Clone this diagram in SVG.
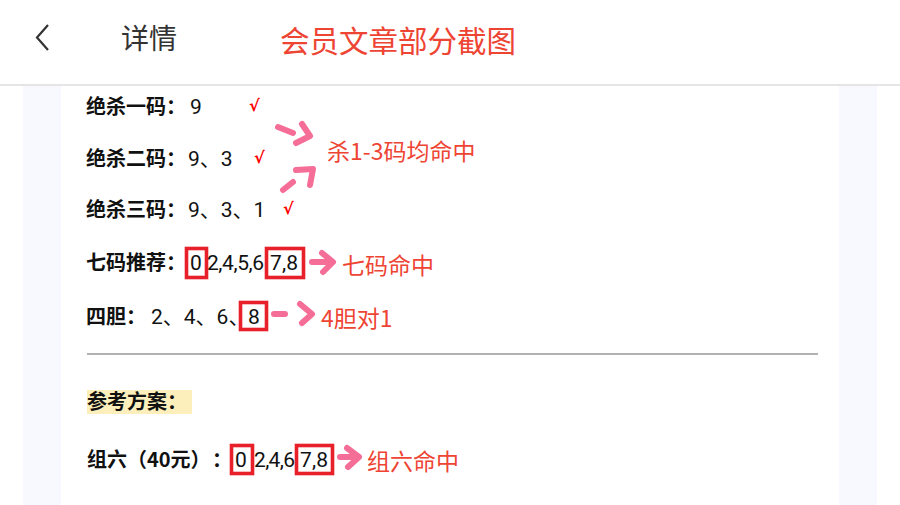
<svg xmlns="http://www.w3.org/2000/svg" width="900" height="505" viewBox="0 0 900 505">
<style>
.lbl{font-family:"Noto Sans CJK SC","Noto Sans",sans-serif;font-weight:bold;font-size:20px;fill:#111}
.num{font-family:Roboto,"Noto Sans CJK SC",sans-serif;font-size:21px;fill:#111}
.red{font-family:"Noto Sans CJK SC","Noto Sans",sans-serif;font-size:23px;fill:#ee4433}
.chk{font-family:"DejaVu Sans",sans-serif;font-size:16px;font-weight:bold;fill:#ff0000}
.box{fill:none;stroke:#e8202a;stroke-width:3.6}
.arr{fill:none;stroke:#f56e98;stroke-width:6;stroke-linecap:round;stroke-linejoin:round}
</style>
<rect width="900" height="505" fill="#ffffff"/>
<rect x="23" y="86" width="38" height="419" fill="#f8f9fe"/>
<rect x="839" y="86" width="38" height="419" fill="#f8f9fe"/>
<g id="header">
<path d="M48,25 L37,37.5 L48,50" fill="none" stroke="#333" stroke-width="2.2"/>
<text x="121" y="49" font-family="Noto Sans CJK SC,sans-serif" font-size="28" fill="#333">详情</text>
<text x="280" y="52" font-family="Noto Sans CJK SC,sans-serif" font-size="29.5" fill="#ee4433">会员文章部分截图</text>
<line x1="0" y1="85" x2="900" y2="85" stroke="#dddddd" stroke-width="1.5"/>
</g>
<g id="row1">
<text class="lbl" x="86" y="114">绝杀一码：</text>
<text class="num" x="190" y="114">9</text>
<text class="chk" x="249" y="111">√</text>
</g>
<g id="row2">
<text class="lbl" x="86" y="166">绝杀二码：</text>
<text class="num" x="188" y="166">9、3</text>
<text class="chk" x="254" y="163">√</text>
</g>
<g id="row3">
<text class="lbl" x="86" y="217">绝杀三码：</text>
<text class="num" x="188" y="217">9、3、1</text>
<text class="chk" x="283" y="214">√</text>
</g>
<g id="note1">
<text class="red" x="327" y="160">杀1-3码均命中</text>
</g>
<g id="row4">
<text class="lbl" x="86" y="270">七码推荐：</text>
<rect class="box" x="186.5" y="248.5" width="20" height="29"/>
<text class="num" x="190" y="270" font-size="22">0</text>
<text class="num" x="207" y="270" font-size="22" textLength="57" lengthAdjust="spacing">2,4,5,6</text>
<rect class="box" x="266.5" y="248.5" width="37" height="29"/>
<text class="num" x="270" y="270" font-size="22" textLength="28" lengthAdjust="spacing">7,8</text>
</g>
<g id="note2">
<text class="red" x="342" y="274">七码命中</text>
</g>
<g id="row5">
<text class="lbl" x="86" y="324">四胆：</text>
<text class="num" x="151" y="324">2、4、6、</text>
<rect class="box" x="240.5" y="302.5" width="26" height="27"/>
<text class="num" x="248" y="324" font-size="22">8</text>
</g>
<g id="note3">
<text class="red" x="321" y="327">4胆对1</text>
</g>
<line x1="87" y1="354" x2="818" y2="354" stroke="#999999" stroke-width="1.5"/>
<g id="plan">
<rect x="87" y="390" width="105" height="24" fill="#fcefbb"/>
<text class="lbl" x="87" y="409">参考方案：</text>
</g>
<g id="row6">
<text class="lbl" x="87" y="467">组六（40元）<tspan x="212">：</tspan></text>
<rect class="box" x="231.5" y="445.5" width="21" height="28"/>
<text class="num" x="235" y="467" font-size="22">0</text>
<text class="num" x="254" y="467" font-size="22" textLength="41" lengthAdjust="spacing">2,4,6</text>
<rect class="box" x="296.5" y="445.5" width="36" height="28"/>
<text class="num" x="300" y="467" font-size="22" textLength="28" lengthAdjust="spacing">7,8</text>
</g>
<g id="note4">
<text class="red" x="367" y="470">组六命中</text>
</g>
<g id="connectors">
<path class="arr" d="M278,127 L293,133"/>
<path class="arr" d="M302,124 L310,136 L296,143"/>
<path class="arr" d="M283,190 L293,182"/>
<path class="arr" d="M296,170 L313,169 L310,185"/>
<path class="arr" d="M312,262 L331,262 M322,253 L333,262 L323,272"/>
<path class="arr" d="M274,314 L285,314"/>
<path class="arr" d="M300,304 L312,314 L302,323"/>
<path class="arr" d="M340,457 L358,457 M347,448 L359,457 L348,467"/>
</g>
</svg>
